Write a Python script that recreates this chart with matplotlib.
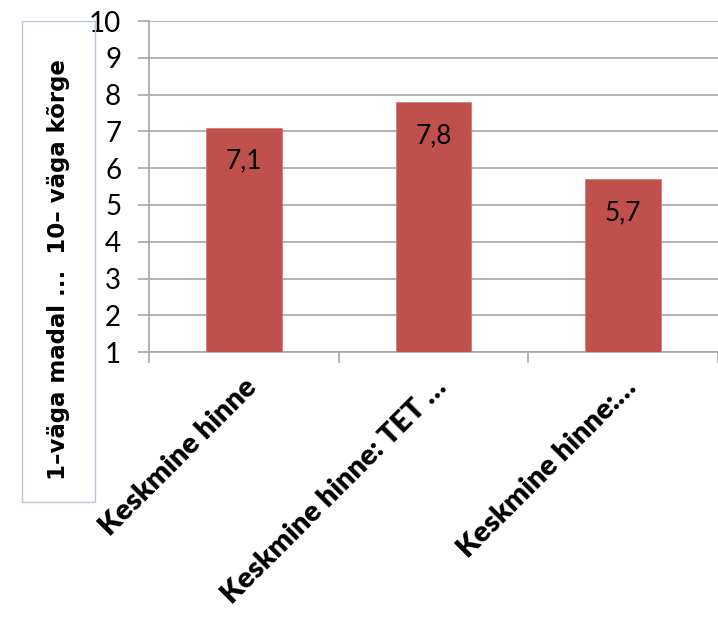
import matplotlib
matplotlib.use('Agg')
import matplotlib.pyplot as plt
from matplotlib.patches import Rectangle

# data
categories = ['Keskmine hinne', 'Keskmine hinne: TET \u2026', 'Keskmine hinne:\u2026']
values = [7.1, 7.8, 5.7]
value_labels = ['7,1', '7,8', '5,7']
y_ticks = [1, 2, 3, 4, 5, 6, 7, 8, 9, 10]
y_title = '1\u2013väga madal ...  10\u2013 väga kõrge'

plt.rcParams['font.family'] = ['Lato', 'DejaVu Sans']

fig = plt.figure(figsize=(7.18, 6.22), dpi=100)
ax = fig.add_axes([0.2075, 0.434, 0.7925, 0.532])

bar_color = '#C0504D'
grid_color = '#a6a6a6'
x = list(range(len(categories)))
heights = [v - 1 for v in values]
ax.bar(x, heights, bottom=1, width=0.4, color=bar_color, edgecolor='#d47a78', linewidth=0.6, zorder=3)

for xi, v, lab in zip(x, values, value_labels):
    ax.annotate(lab, (xi, v), xytext=(0, -24), textcoords='offset points',
                ha='center', va='center', fontsize=19, color='black', zorder=4)

ax.set_xlim(-0.5, 2.5)
ax.set_ylim(1, 10)
ax.set_yticks(y_ticks)
ax.set_yticklabels([str(t) for t in y_ticks], fontsize=20)
ax.yaxis.grid(True, color=grid_color, linewidth=1.2, zorder=0)
ax.tick_params(axis='y', length=8, width=1.2, color=grid_color, pad=12)

ax.set_xticks(x)
ax.set_xticklabels(categories, rotation=45, ha='right', rotation_mode='anchor',
                   fontsize=21, fontweight='heavy')
# nudge labels a bit to the right like the original
for t in ax.get_xticklabels():
    t.set_x(t.get_position()[0] + 0.05)
ax.set_xticks([-0.5, 0.5, 1.5, 2.5], minor=True)
ax.tick_params(axis='x', which='major', length=0, pad=16)
ax.tick_params(axis='x', which='minor', length=8, width=1.2, color=grid_color)

for s in ['top', 'right']:
    ax.spines[s].set_visible(False)
for s in ['left', 'bottom']:
    ax.spines[s].set_color(grid_color)
    ax.spines[s].set_linewidth(1.2)

# boxed y title on the left
box = Rectangle((0.0306, 0.193), 0.1017, 0.773, transform=fig.transFigure,
                fill=False, edgecolor='#b8c4d8', linewidth=1.0)
fig.patches.append(box)
fig.text(0.081, 0.566, y_title, rotation=90, ha='center', va='center',
         fontsize=16.5, fontweight='bold', color='black', family='DejaVu Sans')

fig.savefig('out.png', dpi=100)
